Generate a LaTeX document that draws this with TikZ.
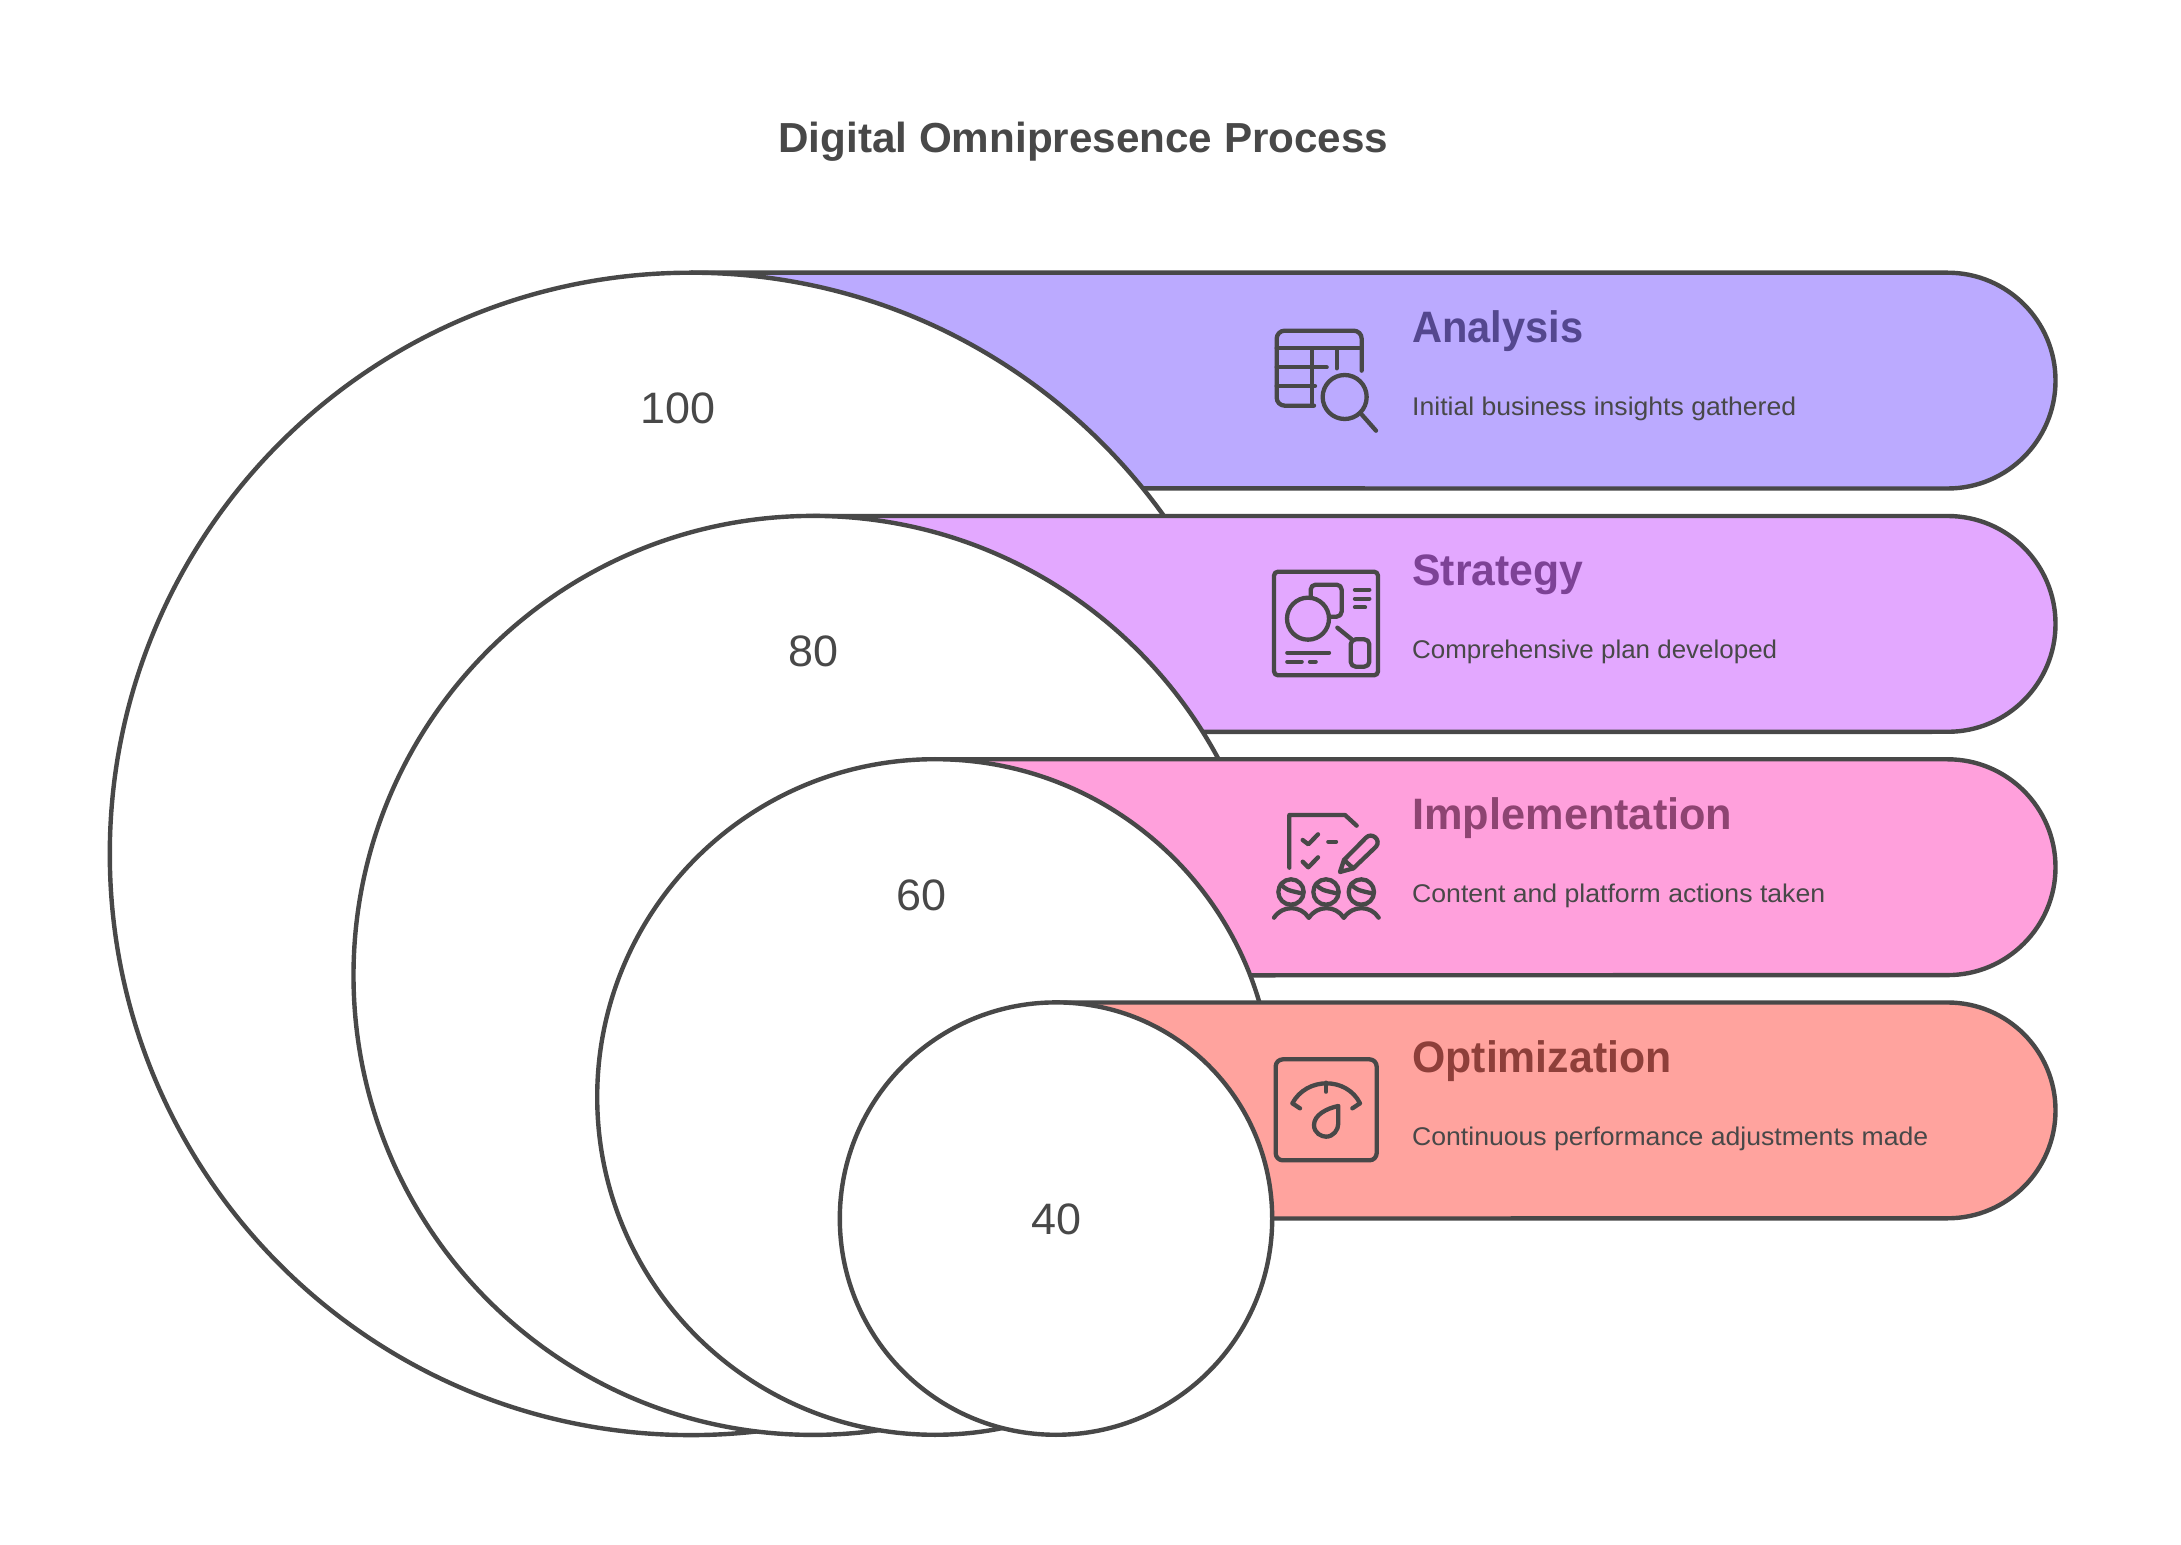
\documentclass[tikz,border=0pt]{standalone}
\usepackage{fontspec}
\setmainfont{Liberation Sans}
\definecolor{ink}{HTML}{484848}
\definecolor{bandA}{HTML}{BBAAFF}
\definecolor{bandB}{HTML}{E3A8FF}
\definecolor{bandC}{HTML}{FFA0DC}
\definecolor{bandD}{HTML}{FFA39E}
\definecolor{headA}{HTML}{54478F}
\definecolor{headB}{HTML}{7D4296}
\definecolor{headC}{HTML}{8E4472}
\definecolor{headD}{HTML}{8E3F3A}
\newcommand{\fitted}[2]{\setbox0=\hbox{#2}\pgfmathsetmacro{\fitr}{#1*0.5/\the\wd0}\scalebox{\fitr}[1]{\box0}}
\tikzset{
  x=0.5pt,y=-0.5pt,
  outline/.style={draw=ink,line width=2.2pt,line join=round},
  disc/.style={outline,fill=white},
  titletext/.style={anchor=base west,inner sep=0pt,font=\fontsize{21}{25}\selectfont\bfseries,text=ink},
  headtext/.style={anchor=base west,inner sep=0pt,font=\fontsize{22}{26}\selectfont\bfseries},
  bodytext/.style={anchor=base west,inner sep=0pt,font=\fontsize{12.8}{15}\selectfont,text=ink},
  numtext/.style={anchor=center,inner sep=0pt,font=\fontsize{22}{26}\selectfont,text=ink},
  glyph/.style={draw=ink,line width=2.15pt,line cap=round,line join=round},
  zoomgrid/.style={x=0.16667pt,y=-0.16667pt}
}
\newcommand{\band}[4]{% colour, x start, top, bottom
  \fill[#1] (#2,#3) -- (1947.6,#3) arc[start angle=-90,end angle=90,radius=107.9] -- (#2,#4) -- cycle;
  \draw[outline] (#2,#3) -- (1947.6,#3) arc[start angle=-90,end angle=90,radius=107.9] -- (#2,#4);
}
% a disc cut off where the next band takes over: x and top of that band
\newcommand{\cutdisc}[5]{% centre x, centre y, radius, next x, next top
  \begin{scope}
  \clip (0,0) -- (2181,0) -- (2181,#5) -- (#4,#5) -- (#4,1545) -- (0,1545) -- cycle;
  \draw[disc] (#1,#2) circle[radius=#3];
  \end{scope}
}
\begin{document}
\begin{tikzpicture}
\useasboundingbox (0,0) rectangle (2181,1545);
\fill[white] (0,0) rectangle (2181,1545);

\node[titletext] (title) at (778,152.7) {\fitted{610}{Digital Omnipresence Process}};

\band{bandA}{691}{272.7}{488.4}
\cutdisc{691}{853.9}{581.2}{813}{516}
\band{bandB}{813}{516}{731.9}
\cutdisc{813}{975.4}{459.5}{935}{759.3}
\band{bandC}{935}{759.3}{975.4}
\cutdisc{935}{1097}{337.8}{1056}{1002.5}
\band{bandD}{1056}{1002.5}{1218.6}
\draw[disc] (1056,1218.6) circle[radius=216.2];

\node[numtext] (n100) at (678,408) {\fitted{75}{100}};
\node[numtext] (n80) at (813,651) {\fitted{50}{80}};
\node[numtext] (n60) at (921,895) {\fitted{50}{60}};
\node[numtext] (n40) at (1056,1219) {\fitted{50}{40}};

\node[headtext,text=headA] (h1) at (1412,342.7) {\fitted{171}{Analysis}};
\node[bodytext] (b1) at (1411.8,415.5) {\fitted{384}{Initial business insights gathered}};
\node[headtext,text=headB] (h2) at (1412,586) {\fitted{171}{Strategy}};
\node[bodytext] (b2) at (1411.8,658.8) {\fitted{365}{Comprehensive plan developed}};
\node[headtext,text=headC] (h3) at (1412,829.3) {\fitted{320}{Implementation}};
\node[bodytext] (b3) at (1411.8,902.1) {\fitted{413}{Content and platform actions taken}};
\node[headtext,text=headD] (h4) at (1412,1072.6) {\fitted{259}{Optimization}};
\node[bodytext] (b4) at (1411.8,1145.4) {\fitted{516}{Continuous performance adjustments made}};

% Analysis icon
\begin{scope}[shift={(1240,300)},zoomgrid]
\draw[glyph,rounded corners=4pt] (365,212) -- (365,92) -- (110,92) -- (110,317) -- (222,317);
\draw[glyph] (110,145) -- (365,145) (215,145) -- (215,317) (110,202) -- (260,202)
  (290,145) -- (290,205) (110,258) -- (225,258);
\draw[glyph] (314,291) circle[radius=66];
\draw[glyph] (362,340) -- (408,392);
\end{scope}

% Strategy icon
\begin{scope}[shift={(1240,550)},zoomgrid]
\draw[glyph,rounded corners=2pt] (102,65) rectangle (414,376);
\draw[glyph] (204,206) circle[radius=63];
\draw[glyph,rounded corners=2.5pt] (212,142) -- (212,104) -- (305,104) -- (305,200) -- (270,200);
\draw[glyph] (345,119) -- (388,119) (345,146) -- (388,146) (345,172) -- (375,172);
\draw[glyph] (292,233) -- (335,268);
\draw[glyph,rounded corners=2.5pt] (332,268) rectangle (388,350);
\draw[glyph] (142,308) -- (267,308) (142,335) -- (185,335) (210,335) -- (227,335);
\end{scope}

% Implementation icon
\begin{scope}[shift={(1240,790)},zoomgrid]
\draw[glyph] (148,233) -- (148,75) -- (315,75) -- (350,107);
\draw[glyph] (188,150) -- (205,163) -- (234,133) (188,215) -- (205,232) -- (234,202);
\draw[glyph] (265,155) -- (288,155);
\draw[glyph] (300,246) -- (312,210) -- (378,143) .. controls (395,125) and (425,150) .. (408,170) -- (340,235) -- cycle;
\draw[glyph] (312,210) -- (340,235);
\foreach \hx/\lx in {153/102,258/207,364/312}{
  \draw[glyph] (\hx,306) circle[radius=38];
  \draw[glyph] (\hx-31,283) .. controls (\hx-13,300) .. (\hx+32,310);
  \draw[glyph] (\lx,383) .. controls (\lx+25,345) and (\lx+80,345) .. (\lx+104,383);
}
\end{scope}

% Optimization icon
\begin{scope}[shift={(1240,1040)},zoomgrid]
\draw[glyph,rounded corners=3.6pt] (107,58) rectangle (410,361);
\draw[glyph] (180,205) -- (157,190) .. controls (200,110) and (320,110) .. (360,190) -- (337,205);
\draw[glyph] (258,128) -- (258,155);
\draw[glyph] (295,198) .. controls (260,205) and (222,225) .. (222,255) .. controls (222,280) and (245,290) .. (258,290) .. controls (280,290) and (295,270) .. (295,250) -- cycle;
\end{scope}
\end{tikzpicture}
\end{document}
